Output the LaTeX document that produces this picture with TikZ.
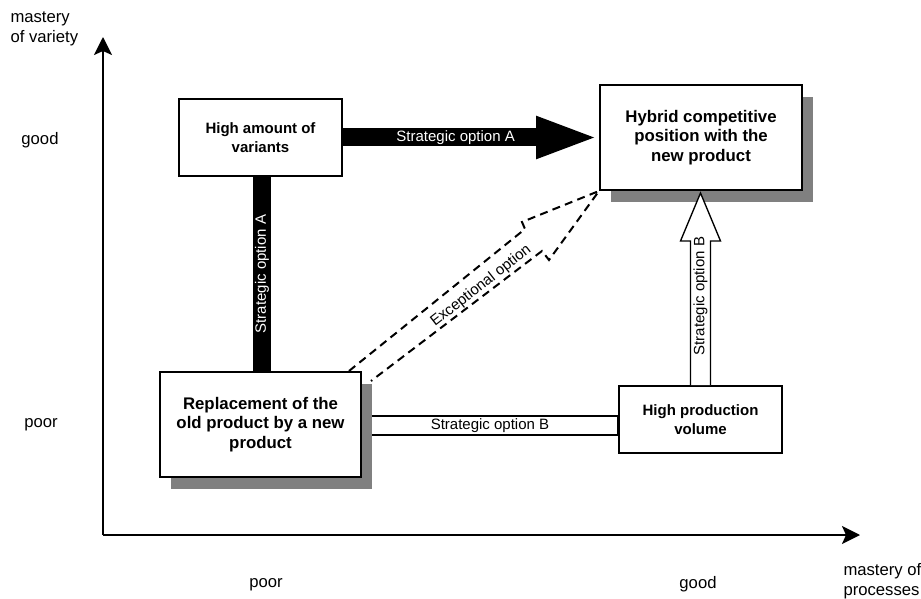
\documentclass[tikz,border=0pt]{standalone}
\usepackage{fontspec}
\setmainfont{Liberation Sans}
\usetikzlibrary{arrows.meta,calc,shadows,backgrounds}

\tikzset{every picture/.style={line width=0.75pt}}
\tikzset{
  box/.style={draw, line width=1.5pt, fill=white, align=center, inner sep=0pt,
    font=\fontsize{11.25}{14.5}\selectfont\bfseries},
  bigbox/.style={box, font=\fontsize{12.6}{14.6}\selectfont\bfseries},
  boxshadow/.style={drop shadow={shadow xshift=8.25pt, shadow yshift=-9pt, fill=black!50, opacity=1}},
  axislabel/.style={font=\fontsize{12.5}{15}\selectfont, align=left, inner sep=0pt},
  optlabel/.style={font=\fontsize{11.25}{13}\selectfont, inner sep=0pt},
  fatarrow/.style={line width=13.5pt},
  hollowarrow/.style={draw, line width=1pt, fill=white},
  excarrow/.style={line width=1.5pt, dash pattern=on 6pt off 4pt},
}

\begin{document}
\begin{tikzpicture}[x=0.75pt,y=0.75pt,yscale=-1,xscale=1]
\useasboundingbox (0,0) rectangle (921,599);

% Axes
\coordinate (origin) at (103,535);
\coordinate (ytip) at (103,37);
\coordinate (xtip) at (860,535);
\draw[line width=1.5pt, -{Stealth[length=13.5pt,width=13.5pt,inset=3pt]}] (origin) -- (ytip);
\draw[line width=1.5pt, -{Stealth[length=13.5pt,width=13.5pt,inset=3pt]}] (origin) -- (xtip);

% Axis labels
\node[axislabel, anchor=west] (yname) at (10,29) {mastery\\of variety};
\node[axislabel, anchor=west] (xname) at (843,581) {mastery of\\processes};
\node[axislabel, anchor=base] (ygood) at (40,145) {good};
\node[axislabel, anchor=base] (ypoor) at (41,427) {poor};
\node[axislabel, anchor=base] (xpoor) at (266,587) {poor};
\node[axislabel, anchor=base] (xgood) at (698,588) {good};

% Text Node
\node[box, minimum width=122.25pt, minimum height=57.75pt] (variety) at (260.5,137.5) {High amount of\\variants};
% Text Node
\node[bigbox, boxshadow, minimum width=151.5pt, minimum height=78.75pt] (hybrid) at (701,137.5) {Hybrid competitive\\position with the\\new product};
% Text Node
\node[bigbox, boxshadow, minimum width=150.75pt, minimum height=78.75pt] (replace) at (260.5,424.5) {Replacement of the\\old product by a new\\product};
% Text Node
\node[box, minimum width=122.25pt, minimum height=50.25pt] (volume) at (700.5,419.5) {High production\\volume};

\begin{scope}[on background layer]
% Connection
\draw[fatarrow, -{Triangle[length=47.25pt,width=28.5pt]}] (variety.east) -- (hybrid.west)
  node[pos=0.44, optlabel, text=white] (optAh) {Strategic option A};
% Connection
\draw[fatarrow] ($(variety.south)+(1.5,0)$) -- ($(variety.south |- replace.north)+(1.5,0)$)
  node[midway, optlabel, text=white, rotate=90] (optAv) {Strategic option A};
% Connection
\draw[hollowarrow] ($(replace.east)+(0,-8.5)$) rectangle ($(volume.west |- replace.east)+(0,10.5)$);
\node[optlabel] (optBh) at ($(replace.east)!0.5!(volume.west |- replace.east)+(0,1)$) {Strategic option B};
% Connection
\draw[excarrow] ($(replace.north east)+(-13,0)$) -- ($(hybrid.south west)+(-74,38)$)
  -- ($(hybrid.south west)+(-77,31)$) -- (hybrid.south west)
  -- ($(hybrid.south west)+(-50,69)$) -- ($(hybrid.south west)+(-57,60)$)
  -- ($(replace.north east)+(9,10)$);
\node[optlabel, rotate=38] (exc) at (481,286) {Exceptional option};
\end{scope}

% Connection
\coordinate (btip) at ($(volume.north |- hybrid.south)+(0,2)$);
\draw[hollowarrow] ($(volume.north)+(-10,0)$) -- ($(btip)+(-10,48)$) -- ($(btip)+(-20,48)$)
  -- (btip) -- ($(btip)+(20,48)$) -- ($(btip)+(10,48)$) -- ($(volume.north)+(10,0)$);
\node[optlabel, rotate=90] (optBv) at ($(volume.north)+(0,-89)$) {Strategic option B};

\end{tikzpicture}
\end{document}
